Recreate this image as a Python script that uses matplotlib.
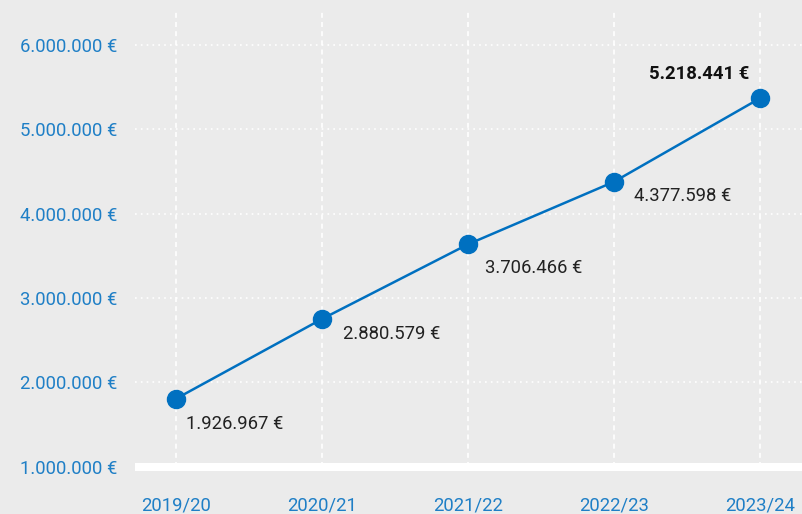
import matplotlib
matplotlib.use('Agg')
import matplotlib.pyplot as plt

# data
seasons = ['2019/20', '2020/21', '2021/22', '2022/23', '2023/24']
# point heights as drawn in the reference (in euros)
plotted = [1805000, 2750000, 3635000, 4376000, 5365000]
# value labels as printed next to the points
value_labels = ['1.926.967 €', '2.880.579 €', '3.706.466 €', '4.377.598 €', '5.218.441 €']
yticks = [1000000, 2000000, 3000000, 4000000, 5000000, 6000000]
ytick_labels = ['1.000.000 €', '2.000.000 €', '3.000.000 €', '4.000.000 €', '5.000.000 €', '6.000.000 €']

BG = '#ebebeb'
BLUE = '#0070c0'
TICKBLUE = '#1f7fc6'
FS = 13.3
plt.rcParams['font.family'] = ['Roboto', 'DejaVu Sans']

fig = plt.figure(figsize=(8.02, 5.14), dpi=100)
fig.patch.set_facecolor(BG)
ax = fig.add_axes([135 / 802, 1 - 466.7 / 514, 1 - 135 / 802, (466.7 - 12) / 514])
ax.set_facecolor(BG)

x = list(range(len(seasons)))
ax.plot(x, plotted, color=BLUE, lw=1.8, marker='o', ms=13, zorder=4, clip_on=False)

#grid
for xi in x:
    ax.axvline(xi, color='white', lw=1.2, ls=(0, (3, 2.5)), zorder=1)
for yv in yticks:
    ax.axhline(yv, color='white', lw=1.2, ls=(0, (1, 2.5)), zorder=1)
ax.axhline(1000000, color='white', lw=5.8, zorder=2, clip_on=False, solid_capstyle='butt')

# value labels
offsets = [(10, -25), (21, -15), (17, -24), (20, -14)]
for i in range(4):
    ax.annotate(value_labels[i], (x[i], plotted[i]), xytext=offsets[i], textcoords='offset pixels',
                ha='left', va='center', fontsize=FS, color='#222222')
ax.annotate(value_labels[4], (x[4], plotted[4]), xytext=(-10, 24), textcoords='offset pixels',
            ha='right', va='center', fontsize=FS, color='#111111', fontweight='bold')

ax.set_xlim(-0.28, 4.29)
ax.set_ylim(1000000, 6390000)
ax.set_xticks(x)
ax.set_xticklabels(seasons)
ax.set_yticks(yticks)
ax.set_yticklabels(ytick_labels)
ax.tick_params(axis='both', length=0, colors=TICKBLUE, labelsize=FS)
ax.tick_params(axis='x', pad=21.5)
ax.tick_params(axis='y', pad=13)
for s in ax.spines.values():
    s.set_visible(False)

fig.savefig('out.png', dpi=100, facecolor=BG)
